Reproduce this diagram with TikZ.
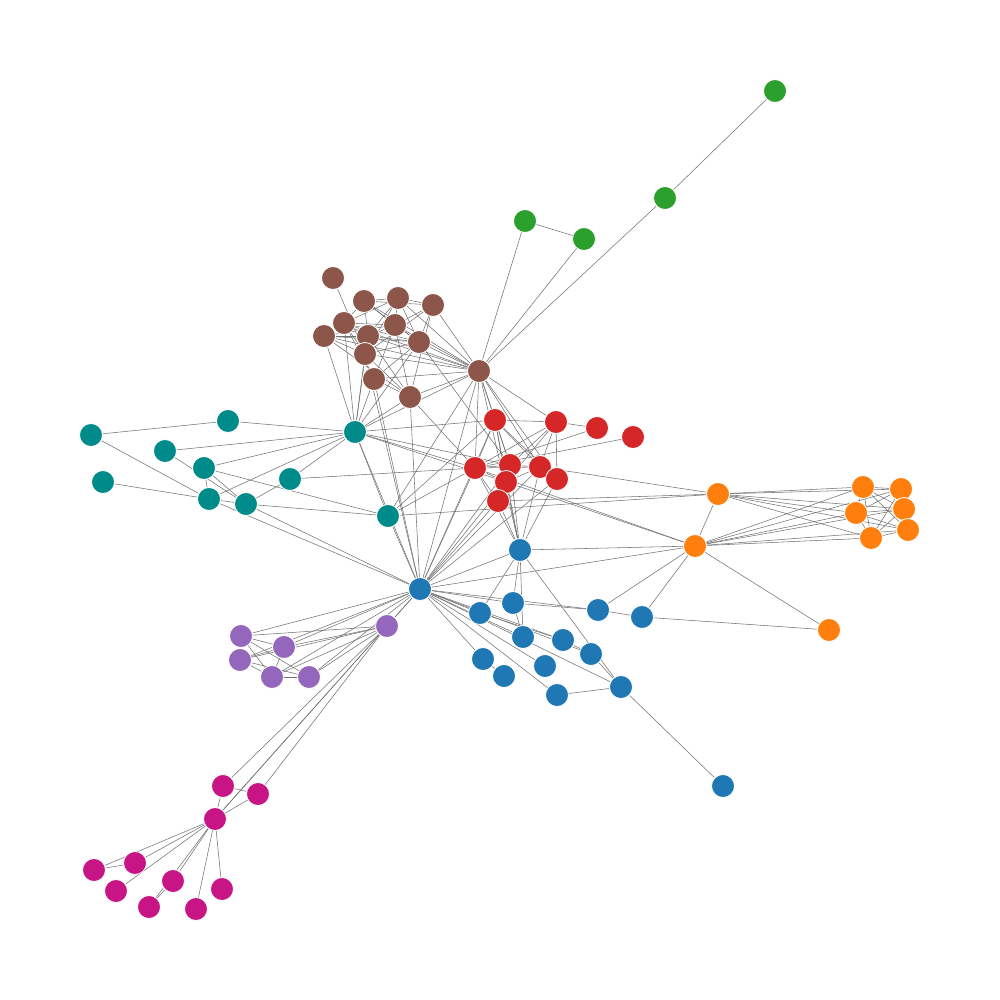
\documentclass[tikz,border=0pt]{standalone}
\usetikzlibrary{backgrounds}
\definecolor{cblue}{HTML}{1F77B4}
\definecolor{corange}{HTML}{FF7F0E}
\definecolor{cgreen}{HTML}{2CA02C}
\definecolor{cred}{HTML}{D62728}
\definecolor{cpurple}{HTML}{9467BD}
\definecolor{cbrown}{HTML}{8C564B}
\definecolor{cteal}{HTML}{008B8B}
\definecolor{cmag}{HTML}{C71585}
\tikzset{
  vtx/.style={circle,minimum size=23pt,inner sep=0pt,draw=white,line width=0.8pt},
  edg/.style={draw=black!55,line width=0.55pt},
}
\begin{document}
\begin{tikzpicture}[x=1pt,y=-1pt]
\useasboundingbox (0,0) rectangle (1000,1000);
% green
\foreach \n/\x/\y in {G1/775/91,G2/665/198,G3/525/221,G4/584/239}
  \node[vtx,fill=cgreen] (\n) at (\x,\y) {};
% brown
\foreach \n/\x/\y in {B1/333/278,B2/364/301,B3/398/298,B4/433/305,B5/344/323,B6/395/325,B7/368/336,B8/324/336,B9/419/342,B10/365/354,B11/374/379,B12/410/397,B13/479/371}
  \node[vtx,fill=cbrown] (\n) at (\x,\y) {};
% red
\foreach \n/\x/\y in {R1/495/420,R2/556/422,R3/597/428,R4/633/437,R5/475/468,R6/510/465,R7/540/467,R8/506/482,R9/557/479,R10/498/501}
  \node[vtx,fill=cred] (\n) at (\x,\y) {};
% teal
\foreach \n/\x/\y in {T1/91/435,T2/228/421,T3/165/451,T4/204/468,T5/103/482,T6/209/499,T7/246/504,T8/290/479,T9/355/432,T10/388/516}
  \node[vtx,fill=cteal] (\n) at (\x,\y) {};
% orange
\foreach \n/\x/\y in {O1/718/494,O2/695/546,O3/863/487,O4/901/489,O5/856/513,O6/904/509,O7/871/538,O8/908/530,O9/829/630}
  \node[vtx,fill=corange] (\n) at (\x,\y) {};
% blue
\foreach \n/\x/\y in {U1/420/589,U2/520/550,U3/513/603,U4/480/613,U5/598/610,U6/642/617,U7/523/637,U8/563/640,U9/591/654,U10/483/659,U11/504/676,U12/545/666,U13/557/695,U14/621/687,U15/723/786}
  \node[vtx,fill=cblue] (\n) at (\x,\y) {};
% purple
\foreach \n/\x/\y in {P1/241/636,P2/284/647,P3/240/660,P4/272/677,P5/309/677,P6/387/626}
  \node[vtx,fill=cpurple] (\n) at (\x,\y) {};
% magenta
\foreach \n/\x/\y in {M1/223/786,M2/258/794,M3/215/819,M4/94/870,M5/135/863,M6/116/891,M7/173/881,M8/149/907,M9/196/909,M10/222/889}
  \node[vtx,fill=cmag] (\n) at (\x,\y) {};
\begin{scope}[on background layer]
\foreach \a/\b in {
G1/G2,G2/B13,G3/G4,G3/B13,G4/B13,
B2/B3,B2/B5,B2/B6,B2/B7,B2/B9,B2/B4,B3/B4,B3/B5,B3/B6,B3/B7,B3/B9,B3/B10,B4/B6,B4/B9,B4/B10,B4/B12,
B5/B6,B5/B7,B5/B8,B5/B9,B5/B10,B5/B11,B6/B7,B6/B8,B6/B9,B6/B11,B6/B12,B7/B8,B7/B9,B7/B10,B7/B12,
B8/B9,B8/B10,B8/B12,B9/B11,B9/B10,B10/B12,B11/B12,B1/B10,
B13/B2,B13/B3,B13/B4,B13/B5,B13/B6,B13/B7,B13/B8,B13/B9,B13/B10,B13/B11,B13/B12,
B8/T9,B10/T9,B11/T9,B12/T9,B7/T9,B5/T9,B9/T9,B13/T9,
B13/R1,B13/R2,B13/R5,B13/R6,B13/R7,B13/R9,B12/R5,B9/R6,B13/U2,B13/U1,B13/T10,B12/U1,B11/U1,B10/U1,
T1/T2,T1/T6,T2/T9,T3/T9,T3/T7,T4/T9,T4/T6,T4/T7,T4/T10,T5/T6,T6/T9,T6/T7,T6/U1,T7/U1,T7/T8,T7/T10,
T8/T9,T8/R5,T9/T10,T9/U1,T9/R1,T9/R5,T9/R6,T9/R8,T10/U1,T10/R5,T10/O1,T10/R1,
R1/R2,R1/R5,R1/R6,R1/R7,R1/R8,R1/R9,R2/R3,R2/R5,R2/R6,R2/R7,R2/R8,R2/R9,R3/R5,R4/R5,R5/R6,R5/R7,R5/R8,
R5/R10,R6/R7,R6/R8,R7/R8,R7/R9,R8/R10,R6/R10,
R7/O1,R10/O1,R5/O2,R8/O2,
R1/U2,R5/U2,R6/U2,R7/U2,R8/U2,R9/U2,R10/U2,R1/U1,R5/U1,R6/U1,R8/U1,R10/U1,R7/U1,R9/U1,
U1/U2,U1/U3,U1/U4,U1/U5,U1/U7,U1/U8,U1/U9,U1/U10,U1/U12,U1/U13,U1/U14,U1/O2,U1/P6,U1/P1,U1/P2,U1/P3,
U1/P4,U1/P5,U1/M3,
U2/U3,U2/U4,U2/U7,U2/U14,U2/O2,U3/U5,U3/U7,U4/U8,U5/U6,U5/O2,U6/O2,U6/O9,U8/U9,U13/U14,U14/U15,U9/U14,U10/U11,
O2/O9,O1/O2,
O1/O3,O1/O4,O1/O5,O1/O6,O1/O7,O1/O8,O2/O3,O2/O4,O2/O5,O2/O6,O2/O7,O2/O8,O3/O4,O3/O5,O3/O6,O3/O7,O3/O8,
O4/O5,O4/O6,O4/O7,O5/O6,O5/O7,O5/O8,O6/O7,O6/O8,O7/O8,
P1/P2,P1/P4,P1/P5,P1/P6,P2/P3,P2/P4,P2/P6,P3/P4,P3/P5,P3/P6,P4/P5,P4/P6,P5/P6,
P6/M1,P6/M2,P6/M3,
M1/M2,M1/M3,M2/M3,M3/M4,M3/M5,M3/M6,M3/M7,M3/M8,M3/M9,M3/M10,M4/M5,M7/M8}
  \draw[edg] (\a) -- (\b);
\end{scope}
\end{tikzpicture}
\end{document}
